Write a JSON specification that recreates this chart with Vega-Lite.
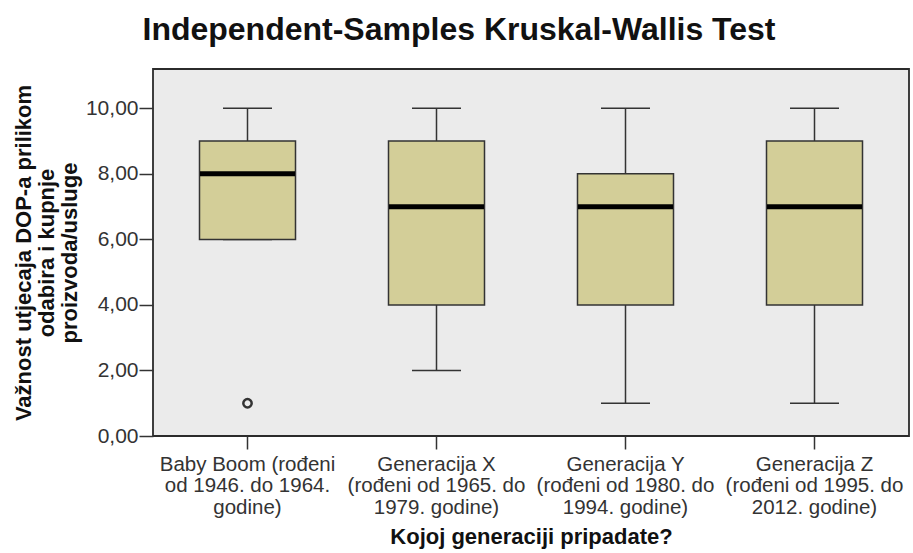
{
  "$schema": "https://vega.github.io/schema/vega-lite/v6.json",
  "autosize": {"type": "none"},
  "padding": {"left": 153, "top": 69, "right": 4, "bottom": 117},
  "width": 756,
  "height": 367,
  "background": "white",
  "title": {
    "text": "Independent-Samples Kruskal-Wallis Test",
    "anchor": "middle",
    "frame": "group",
    "dx": -72,
    "offset": 22,
    "font": "Liberation Sans",
    "fontSize": 32,
    "fontWeight": "bold",
    "color": "#111111"
  },
  "config": {
    "view": {"fill": "#EBEBEB", "stroke": "#2b2b2b", "strokeWidth": 1.8},
    "axis": {
      "labelFont": "Liberation Sans",
      "labelFontSize": 21,
      "labelColor": "#333333",
      "titleFont": "Liberation Sans",
      "titleFontWeight": "bold",
      "titleColor": "#111111",
      "tickColor": "#333333",
      "tickWidth": 1.5,
      "domain": false,
      "grid": false
    }
  },
  "datasets": {
    "boxes": [
      {"generacija": "Baby Boom (rođeni|od 1946. do 1964.|godine)", "min": 6, "q1": 6, "median": 8, "q3": 9, "max": 10},
      {"generacija": "Generacija X|(rođeni od 1965. do|1979. godine)", "min": 2, "q1": 4, "median": 7, "q3": 9, "max": 10},
      {"generacija": "Generacija Y|(rođeni od 1980. do|1994. godine)", "min": 1, "q1": 4, "median": 7, "q3": 8, "max": 10},
      {"generacija": "Generacija Z|(rođeni od 1995. do|2012. godine)", "min": 1, "q1": 4, "median": 7, "q3": 9, "max": 10}
    ],
    "outliers": [
      {"generacija": "Baby Boom (rođeni|od 1946. do 1964.|godine)", "value": 1}
    ]
  },
  "data": {"name": "boxes"},
  "encoding": {
    "x": {
      "field": "generacija",
      "type": "nominal",
      "sort": null,
      "scale": {"paddingInner": 0, "paddingOuter": 0},
      "axis": {
        "title": "Kojoj generaciji pripadate?",
        "labelAngle": 0,
        "labelExpr": "split(datum.label, '|')",
        "labelLineHeight": 21.5,
        "labelPadding": 5,
        "labelFontSize": 20.5,
        "labelLimit": 400,
        "labelOverlap": false,
        "tickSize": 13,
        "titlePadding": 9,
        "titleFontSize": 22,
        "labelBaseline": "top"
      }
    }
  },
  "layer": [
    {
      "mark": {"type": "rule", "color": "#333333", "strokeWidth": 1.5},
      "encoding": {
        "y": {
          "field": "min",
          "type": "quantitative",
          "scale": {"domain": [0, 11.2], "nice": false, "zero": false},
          "axis": {
            "title": ["Važnost utjecaja DOP-a prilikom", "odabira i kupnje", "proizvoda/usluge"],
            "titleLineHeight": 23,
            "titlePadding": 4,
            "titleFontSize": 22,
            "values": [0, 2, 4, 6, 8, 10],
            "format": ".2f",
            "labelExpr": "replace(datum.label, '.', ',')",
            "labelFontSize": 21,
            "tickSize": 14,
            "labelPadding": 1
          }
        },
        "y2": {"field": "max"}
      }
    },
    {
      "mark": {"type": "tick", "color": "#333333", "thickness": 1.5, "size": 49, "opacity": 1},
      "encoding": {"y": {"field": "max", "type": "quantitative"}}
    },
    {
      "mark": {"type": "tick", "color": "#333333", "thickness": 1.5, "size": 49, "opacity": 1},
      "encoding": {"y": {"field": "min", "type": "quantitative"}}
    },
    {
      "mark": {"type": "bar", "fill": "#D3CE98", "stroke": "#333333", "strokeWidth": 1.5, "width": 96},
      "encoding": {
        "y": {"field": "q1", "type": "quantitative"},
        "y2": {"field": "q3"}
      }
    },
    {
      "mark": {"type": "tick", "color": "#000000", "thickness": 5, "size": 95, "opacity": 1},
      "encoding": {"y": {"field": "median", "type": "quantitative"}}
    },
    {
      "data": {"name": "outliers"},
      "mark": {"type": "point", "shape": "circle", "filled": false, "color": "#333333", "strokeWidth": 2.5, "size": 70, "opacity": 1},
      "encoding": {"y": {"field": "value", "type": "quantitative"}}
    }
  ]
}
